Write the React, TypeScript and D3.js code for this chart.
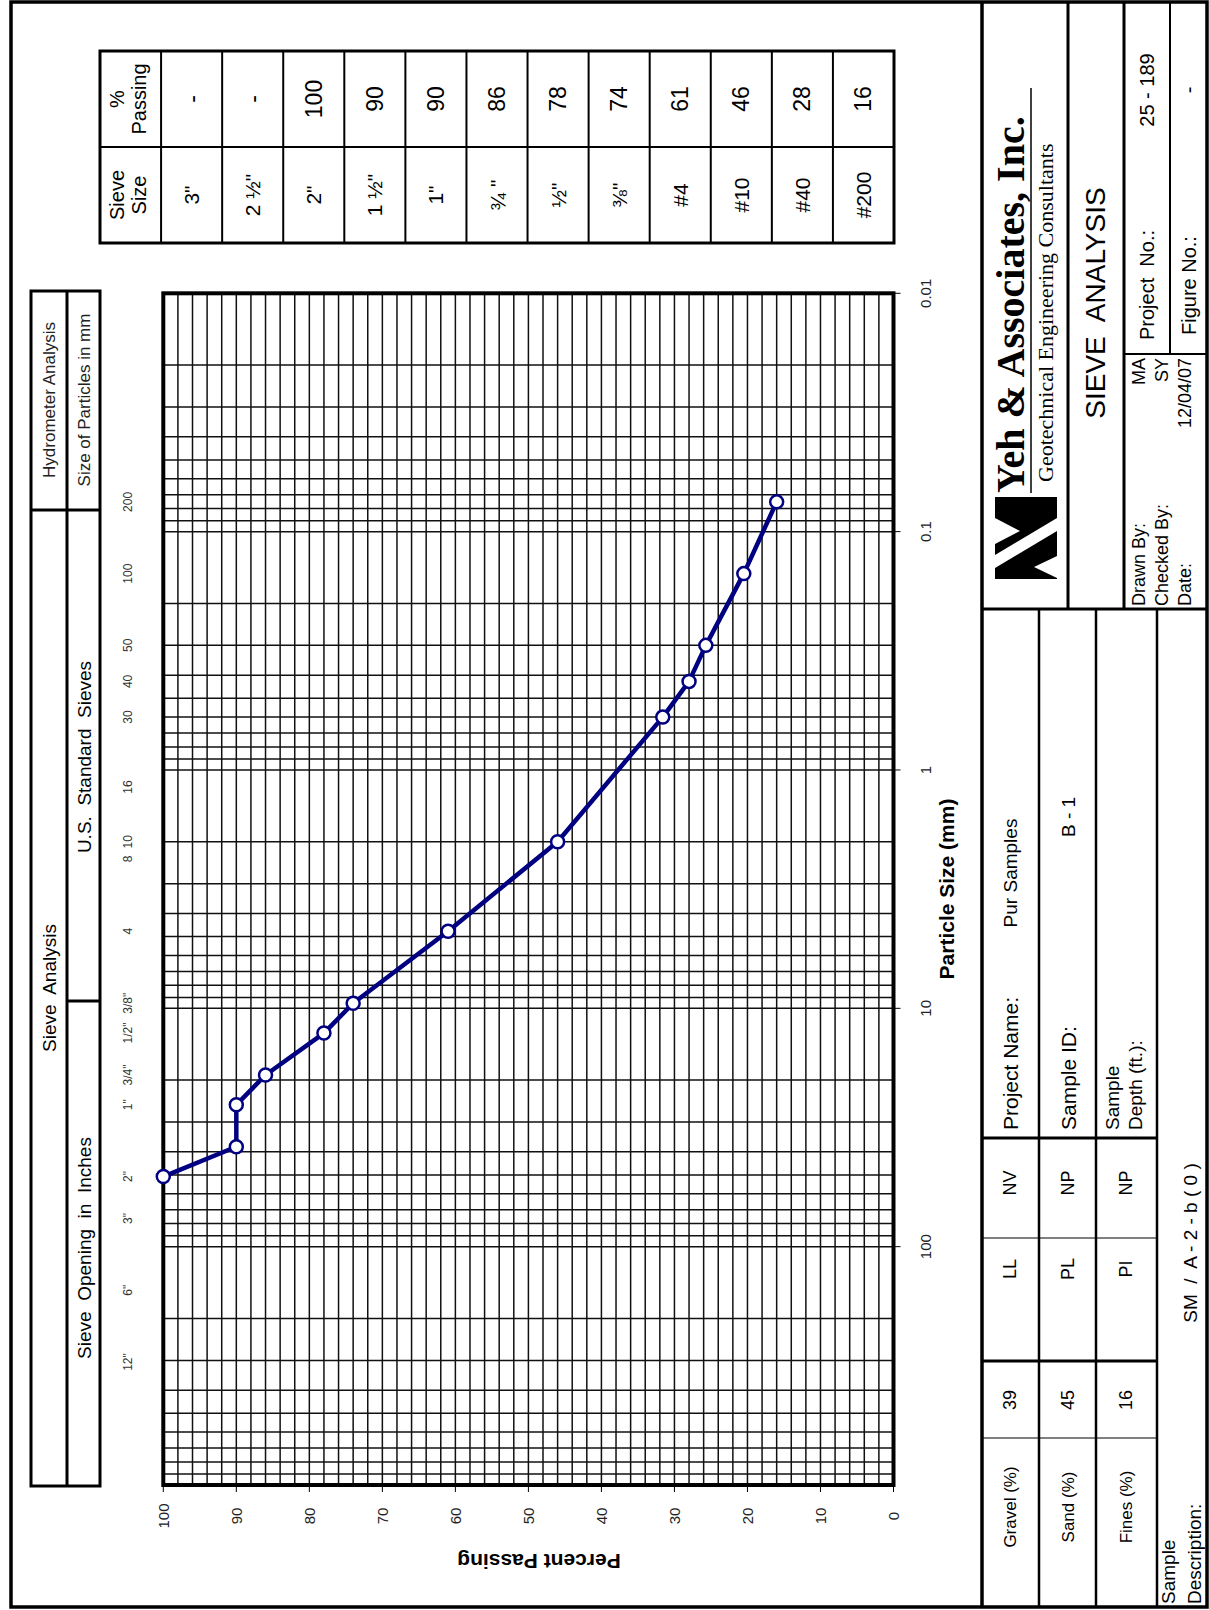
import React from 'react';
import * as d3 from 'd3';

// plotted gradation (sieve opening in mm, % passing)
const sieveSizeMm = [50.8, 38.1, 25.4, 19.05, 12.7, 9.525, 4.75, 2.0, 0.6, 0.425, 0.3, 0.15, 0.075];
const percentPassing = [100, 90, 90, 86, 78, 74, 61, 46, 31.6, 28, 25.7, 20.5, 16];

// sieve labels along the top of the chart
const inchLabels = ['12"', '6"', '3"', '2"', '1"', '3/4"', '1/2"', '3/8"'];
const inchSizes = [304.8, 152.4, 76.2, 50.8, 25.4, 19.05, 12.7, 9.525];
const sieveNoLabels = ['4', '8', '10', '16', '30', '40', '50', '100', '200'];
const sieveNoSizes = [4.75, 2.36, 2.0, 1.18, 0.6, 0.425, 0.3, 0.15, 0.075];

const sizeTicks = [0.01, 0.1, 1, 10, 100];
const percentTicks = [100, 90, 80, 70, 60, 50, 40, 30, 20, 10, 0];

// summary table
const tableSieves = ['3"', '2 ½"', '2"', '1 ½"', '1"', '¾ "', '½"', '⅜"', '#4', '#10', '#40', '#200'];
const tablePassing = ['-', '-', '100', '90', '90', '86', '78', '74', '61', '46', '28', '16'];

const gradationLabels = ['Gravel (%)', 'Sand (%)', 'Fines (%)'];
const gradationValues = ['39', '45', '16'];
const limitLabels = ['LL', 'PL', 'PI'];
const limitValues = ['NV', 'NP', 'NP'];

const SANS = 'Liberation Sans, Arial, sans-serif';
const NARROW = 'Liberation Sans Narrow, Liberation Sans, Arial, sans-serif';
const SERIF = 'Liberation Serif, Times New Roman, serif';
const NAVY = '#000080';

// rotated text (page is drawn in landscape, turned a quarter)
function RT(props: any) {
  const { x, y, size = 16, anchor = 'middle', weight = 'normal', family = SANS, rot = -90, fill = '#000', children } = props;
  return (
    <text transform={`translate(${x},${y}) rotate(${rot})`} textAnchor={anchor} dominantBaseline="central"
      fontSize={size} fontWeight={weight} fontFamily={family} fill={fill} style={{ whiteSpace: 'pre' }}>
      {children}
    </text>
  );
}

export default function App() {
  const sizeScale = d3.scaleLog().domain([0.01, 1000]).range([293.3, 1485]);
  const pctScale = d3.scaleLinear().domain([100, 0]).range([163.3, 893.5]);

  const plotTop = sizeScale(0.01), plotBottom = sizeScale(1000);
  const plotLeft = pctScale(100), plotRight = pctScale(0);

  const sizeGrid = sizeScale.ticks();
  const pctGrid = d3.range(0, 101, 2);

  const line = d3.line<number>()
    .x((d, i) => pctScale(percentPassing[i]))
    .y((d) => sizeScale(d));

  const tableX = d3.scaleBand<number>().domain(d3.range(13)).range([100, 894]);
  const tTop = 51, tMid = 147, tBot = 243;

  return (
    <svg width={1209} height={1610} style={{ position: 'absolute', left: 0, top: 0, background: '#fff' }}>
      <rect x={0} y={0} width={1209} height={1610} fill="#fff" />

      {/* page frame */}
      <rect x={11} y={2} width={1196} height={1605} fill="none" stroke="#000" strokeWidth={3.5} />

      {/* header box above the chart */}
      <g stroke="#000" strokeWidth={3}>
        <rect x={31} y={291} width={69} height={1195} fill="none" />
        <line x1={67} x2={67} y1={291} y2={1486} />
        <line x1={31} x2={100} y1={510} y2={510} />
        <line x1={67} x2={100} y1={1001} y2={1001} />
      </g>
      <RT x={49} y={400} size={17} fill="#222">Hydrometer Analysis</RT>
      <RT x={84} y={400} size={17} fill="#222">Size of Particles in mm</RT>
      <RT x={49} y={988} size={19}>{'Sieve  Analysis'}</RT>
      <RT x={84} y={757} size={19}>{'U.S.  Standard  Sieves'}</RT>
      <RT x={84} y={1248} size={19}>{'Sieve  Opening  in  Inches'}</RT>

      {inchLabels.map((l, i) => (
        <RT key={'in' + i} x={128} y={sizeScale(inchSizes[i])} size={12} family={NARROW} fill="#333">{l}</RT>
      ))}
      {sieveNoLabels.map((l, i) => (
        <RT key={'no' + i} x={128} y={sizeScale(sieveNoSizes[i])} size={12} family={NARROW} fill="#333">{l}</RT>
      ))}

      {/* grid */}
      <g stroke="#111" strokeWidth={1.5}>
        {pctGrid.map((p) => (
          <line key={'p' + p} x1={pctScale(p)} x2={pctScale(p)} y1={plotTop} y2={plotBottom} />
        ))}
        {sizeGrid.map((s, i) => (
          <line key={'s' + i} x1={plotLeft} x2={plotRight} y1={sizeScale(s)} y2={sizeScale(s)} />
        ))}
      </g>
      <rect x={plotLeft} y={plotTop} width={plotRight - plotLeft} height={plotBottom - plotTop}
        fill="none" stroke="#000" strokeWidth={4} />

      {/* axes */}
      <g stroke="#000" strokeWidth={1}>
        {percentTicks.map((p) => (
          <line key={'pt' + p} x1={pctScale(p)} x2={pctScale(p)} y1={plotBottom} y2={plotBottom + 7} />
        ))}
        {sizeTicks.map((s) => (
          <line key={'st' + s} x1={plotRight} x2={plotRight + 7} y1={sizeScale(s)} y2={sizeScale(s)} />
        ))}
      </g>
      {percentTicks.map((p) => (
        <RT key={'pl' + p} x={pctScale(p)} y={1516} size={15} fill="#222">{p}</RT>
      ))}
      {sizeTicks.map((s) => (
        <RT key={'sl' + s} x={925} y={sizeScale(s)} size={15} fill="#222">{String(s)}</RT>
      ))}
      <RT x={946} y={889} size={21} weight="bold">Particle Size (mm)</RT>
      <RT x={539} y={1561} size={21} weight="bold" rot={180}>Percent Passing</RT>

      {/* gradation curve */}
      <path d={line(sieveSizeMm) || ''} fill="none" stroke={NAVY} strokeWidth={4.5} strokeLinejoin="round" />
      {sieveSizeMm.map((s, i) => (
        <circle key={'m' + i} cx={pctScale(percentPassing[i])} cy={sizeScale(s)} r={6.5}
          fill="#fff" stroke={NAVY} strokeWidth={2.5} />
      ))}

      {/* sieve table */}
      <g stroke="#000">
        <rect x={100} y={tTop} width={794} height={tBot - tTop} fill="none" strokeWidth={3} />
        <line x1={100} x2={894} y1={tMid} y2={tMid} strokeWidth={2} />
        {d3.range(1, 13).map((i) => (
          <line key={'tc' + i} x1={tableX(i)} x2={tableX(i)} y1={tTop} y2={tBot} strokeWidth={2} />
        ))}
      </g>
      <RT x={117} y={195} size={20}>Sieve</RT>
      <RT x={139} y={195} size={20}>Size</RT>
      <RT x={117} y={99} size={20}>%</RT>
      <RT x={139} y={99} size={20}>Passing</RT>
      {tableSieves.map((s, i) => (
        <RT key={'ts' + i} x={(tableX(i + 1) as number) + tableX.bandwidth() / 2} y={195} size={21}>{s}</RT>
      ))}
      {tablePassing.map((s, i) => (
        <RT key={'tp' + i} x={(tableX(i + 1) as number) + tableX.bandwidth() / 2} y={99} size={23}>{s}</RT>
      ))}

      {/* title block */}
      <g stroke="#000">
        <line x1={982} x2={982} y1={2} y2={1607} strokeWidth={3.5} />
        <line x1={982} x2={1207} y1={609} y2={609} strokeWidth={3} />
        <line x1={1068} x2={1068} y1={2} y2={609} strokeWidth={3} />
        <line x1={1124} x2={1124} y1={2} y2={609} strokeWidth={3} />
        <line x1={1124} x2={1207} y1={354} y2={354} strokeWidth={2} />
        <line x1={1170} x2={1170} y1={2} y2={354} strokeWidth={2} />
        <line x1={1039} x2={1039} y1={609} y2={1607} strokeWidth={2.5} />
        <line x1={1096} x2={1096} y1={609} y2={1607} strokeWidth={2.5} />
        <line x1={1157} x2={1157} y1={609} y2={1607} strokeWidth={2.5} />
        <line x1={982} x2={1157} y1={1138} y2={1138} strokeWidth={3} />
        <line x1={982} x2={1157} y1={1238} y2={1238} strokeWidth={1.2} />
        <line x1={982} x2={1157} y1={1361} y2={1361} strokeWidth={3} />
        <line x1={982} x2={1157} y1={1438} y2={1438} strokeWidth={1.2} />
        <line x1={1031} x2={1031} y1={88} y2={493} strokeWidth={1.5} />
      </g>

      {/* logo */}
      <g>
        <rect x={995} y={497} width={62} height={82} fill="#000" />
        <polygon points="1057,518 1057,531 995,568 995,555" fill="#fff" />
        <polygon points="995,518 1020,531 995,544" fill="#fff" />
        <polygon points="1057,556 1034,567 1057,578" fill="#fff" />
      </g>
      <RT x={1010} y={493} size={40} weight="bold" family={SERIF} anchor="start">Yeh &amp; Associates, Inc.</RT>
      <RT x={1045} y={482} size={22} family={SERIF} anchor="start">Geotechnical Engineering Consultants</RT>
      <RT x={1095} y={303} size={28}>{'SIEVE  ANALYSIS'}</RT>

      <RT x={1147} y={340} size={20} anchor="start">Project  No.:</RT>
      <RT x={1147} y={90} size={20}>25 - 189</RT>
      <RT x={1189} y={335} size={20} anchor="start">Figure No.:</RT>
      <RT x={1189} y={90} size={20}>-</RT>

      <RT x={1139} y={606} size={18} anchor="start">Drawn By:</RT>
      <RT x={1162} y={606} size={18} anchor="start">Checked By:</RT>
      <RT x={1185} y={606} size={18} anchor="start">Date:</RT>
      <RT x={1139} y={358} size={18} anchor="end">MA</RT>
      <RT x={1162} y={358} size={18} anchor="end">SY</RT>
      <RT x={1185} y={358} size={18} anchor="end">12/04/07</RT>

      <RT x={1010} y={1130} size={21} anchor="start">Project Name:</RT>
      <RT x={1010} y={873} size={19}>Pur Samples</RT>
      <RT x={1068} y={1130} size={21} anchor="start">Sample ID:</RT>
      <RT x={1068} y={817} size={19}>B - 1</RT>
      <RT x={1112} y={1130} size={19} anchor="start">Sample</RT>
      <RT x={1135} y={1130} size={19} anchor="start">Depth (ft.):</RT>

      {gradationLabels.map((l, i) => (
        <RT key={'gl' + i} x={1010 + i * 58} y={1507} size={17}>{l}</RT>
      ))}
      {gradationValues.map((l, i) => (
        <RT key={'gv' + i} x={1010 + i * 58} y={1400} size={18}>{l}</RT>
      ))}
      {limitLabels.map((l, i) => (
        <RT key={'ll' + i} x={1010 + i * 58} y={1269} size={18}>{l}</RT>
      ))}
      {limitValues.map((l, i) => (
        <RT key={'lv' + i} x={1010 + i * 58} y={1183} size={18}>{l}</RT>
      ))}
      <RT x={1168} y={1604} size={19} anchor="start">Sample</RT>
      <RT x={1194} y={1604} size={19} anchor="start">Description:</RT>
      <RT x={1190} y={1243} size={19}>SM  /  A - 2 - b ( 0 )</RT>
    </svg>
  );
}
